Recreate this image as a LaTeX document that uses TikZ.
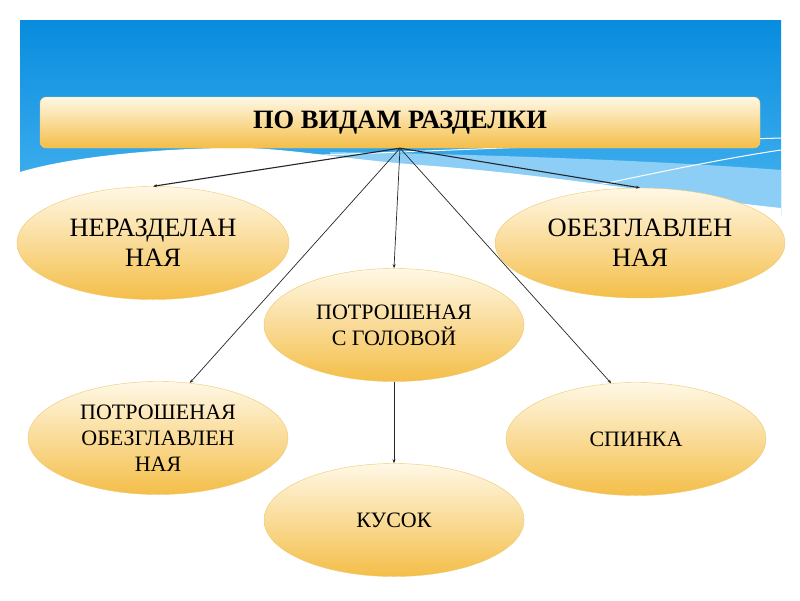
\documentclass[tikz,border=0pt]{standalone}
\usepackage{fontspec}
\setmainfont{LiberationSerif}[Extension=.ttf, UprightFont=*-Regular, BoldFont=*-Bold]
\usetikzlibrary{arrows.meta,shapes.geometric}

\definecolor{skytop}{RGB}{8,140,222}
\definecolor{skybot}{RGB}{72,180,240}
\definecolor{skylight}{RGB}{140,206,246}
\definecolor{creamtop}{RGB}{255,248,230}
\definecolor{goldbot}{RGB}{244,190,72}
\definecolor{goldline}{RGB}{240,200,110}

\begin{document}
\begin{tikzpicture}[
  x=1pt, y=-1pt,
  box/.style={draw=goldline, rounded corners=6pt, minimum width=720pt, minimum height=51pt,
              top color=creamtop, bottom color=goldbot, inner sep=0pt,
              font=\fontsize{26.5}{30}\selectfont\bfseries},
  oval/.style={ellipse, draw=goldline, top color=creamtop, bottom color=goldbot,
               minimum width=260pt, minimum height=113pt, inner sep=0pt, align=center,
               font=\fontsize{22}{26}\selectfont},
  wide/.style={minimum width=272pt, font=\fontsize{26.5}{30}\selectfont},
  arr/.style={-{Stealth[length=4pt, width=3pt]}, line width=0.7pt, black!85}
]
\useasboundingbox (0,0) rectangle (800,600);
\fill[white] (0,0) rectangle (800,600);

% sky and waves
\shade[top color=skytop, bottom color=skybot] (20,20) rectangle (781,215);
\fill[skylight] (330,152) .. controls (470,154) and (650,160) .. (781,170) -- (781,215) -- (330,215) -- cycle;
\draw[white, line width=1pt] (250,158) .. controls (450,150) and (650,142) .. (781,138);
\draw[white, line width=1pt] (480,210) .. controls (600,185) and (700,162) .. (781,150);
\fill[white] (20,172) .. controls (60,160) and (130,150) .. (220,148)
  .. controls (280,146) and (330,158) .. (420,165)
  .. controls (560,175) and (700,200) .. (781,208) -- (781,220) -- (20,220) -- cycle;

\node[box] (title) at (400,122.5) {ПО ВИДАМ РАЗДЕЛКИ};

\node[oval, wide] (whole) at (153,243) {НЕРАЗДЕЛАН\\НАЯ};
\node[oval, wide, minimum width=290pt, minimum height=110pt] (headless) at (640,243) {ОБЕЗГЛАВЛЕН\\НАЯ};
\node[oval] (gutted) at (394,325) {ПОТРОШЕНАЯ\\С ГОЛОВОЙ};
\node[oval] (guttedhl) at (158,438) {ПОТРОШЕНАЯ\\ОБЕЗГЛАВЛЕН\\НАЯ};
\node[oval] (back) at (636,439) {СПИНКА};
\node[oval] (piece) at (394,520) {КУСОК};

\draw[arr, line width=1.1pt] (title.south) -- (whole.north);
\draw[arr, line width=1.1pt] (title.south) -- (headless.north);
\draw[arr] (title.south) -- (gutted.north);
\draw[arr] (title.south) -- (guttedhl.60);
\draw[arr] (title.south) -- (back.114);
\draw[arr] (gutted.south) -- (piece.north);
\end{tikzpicture}
\end{document}
